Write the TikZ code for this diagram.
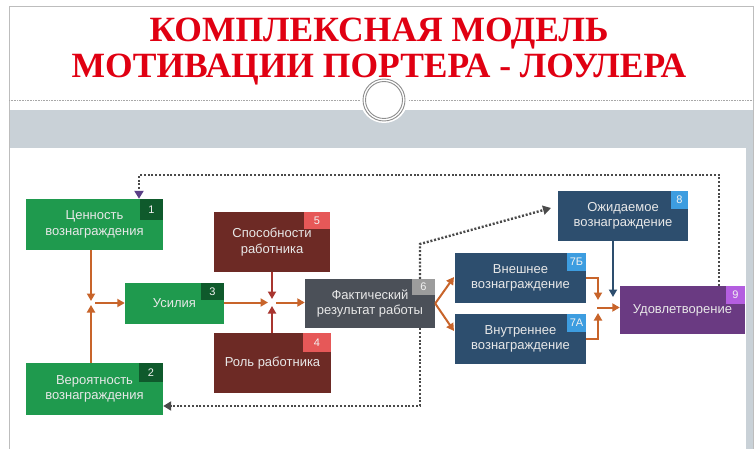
\documentclass[tikz,border=0pt]{standalone}
\usepackage{fontspec}
\setmainfont{Liberation Sans}
\newfontfamily\titlefont{Liberation Serif}
\usetikzlibrary{arrows.meta}
\definecolor{titlered}{HTML}{E00012}
\definecolor{bandgray}{HTML}{C9D1D7}
\definecolor{framegray}{HTML}{BDBDBD}
\definecolor{linegray}{HTML}{A8A8A8}
\definecolor{ringgray}{HTML}{8E8E8E}
\definecolor{cgreen}{HTML}{1F9A4E}
\definecolor{cgreentab}{HTML}{0F5A2C}
\definecolor{cbrown}{HTML}{6D2A25}
\definecolor{cbrowntab}{HTML}{E65858}
\definecolor{cgray}{HTML}{4B5058}
\definecolor{cgraytab}{HTML}{9C9C9C}
\definecolor{cblue}{HTML}{2D4E6E}
\definecolor{cbluetab}{HTML}{3D9DE0}
\definecolor{cpurple}{HTML}{6A3A82}
\definecolor{cpurpletab}{HTML}{B45EE0}
\definecolor{boxtext}{HTML}{E8E8E8}
\definecolor{arrorange}{HTML}{C8642A}
\definecolor{arrred}{HTML}{A8352F}
\definecolor{arrblue}{HTML}{2D4E6E}
\definecolor{dotgray}{HTML}{4A4A4A}
\definecolor{arrpurple}{HTML}{5A3F86}
\begin{document}
\begin{tikzpicture}[x=1pt,y=-1pt,
  title/.style={inner sep=0pt, text=titlered, font=\titlefont\bfseries\fontsize{35.5}{38}\selectfont},
  box/.style={rectangle, inner sep=2pt, align=center, text=boxtext, font=\fontsize{13}{15.5}\selectfont},
  tabbox/.style={rectangle, inner sep=0pt, anchor=north east, text=white!90!gray, font=\fontsize{11}{12}\selectfont},
  arr/.style={draw=arrorange, line width=2pt, -{Triangle[length=7.5pt,width=8pt]}},
  arrr/.style={draw=arrred, line width=2pt, -{Triangle[length=7.5pt,width=8pt]}},
  arrb/.style={draw=arrblue, line width=2pt, -{Triangle[length=7.5pt,width=8pt]}},
  dotl/.style={draw=dotgray, line width=2.4pt, dash pattern=on 2pt off 1.8pt}
]
\useasboundingbox (0,0) rectangle (755,449);
% slide background
\fill[white] (0,0) rectangle (755,449);
\fill[bandgray] (9,110) rectangle (753,449);
\fill[white] (9,148) rectangle (746,449);
\draw[framegray, line width=0.8pt] (9,449) -- (9,6) -- (753,6) -- (753,449);
\draw[linegray, line width=0.7pt, dash pattern=on 0.8pt off 0.8pt] (9,100) -- (753,100);
\fill[white] (384,99) circle[radius=24];
\draw[ringgray, line width=0.9pt] (384,100) circle[radius=21];
\draw[ringgray, line width=0.9pt] (384,100) circle[radius=18.5];
% title
\node[title, anchor=base] (title1) at (379,42) {КОМПЛЕКСНАЯ МОДЕЛЬ};
\node[title, anchor=base] (title2) at (379,78) {МОТИВАЦИИ ПОРТЕРА - ЛОУЛЕРА};
% boxes
\node[box, fill=cgreen, minimum width=137pt, minimum height=51pt] (b1) at (94.5,224.5) {Ценность\\вознаграждения};
\node[box, fill=cgreen, minimum width=137pt, minimum height=52pt] (b2) at (94.5,389) {Вероятность\\вознаграждения};
\node[box, fill=cgreen, minimum width=99pt, minimum height=41pt] (b3) at (174.5,303.5) {Усилия};
\node[box, fill=cbrown, minimum width=116pt, minimum height=60pt] (b5) at (272,242) {Способности\\работника};
\node[box, fill=cbrown, minimum width=117pt, minimum height=60pt] (b4) at (272.5,363) {Роль работника};
\node[box, fill=cgray, minimum width=130pt, minimum height=49pt] (b6) at (370,303.5) {Фактический\\результат работы};
\node[box, fill=cblue, minimum width=131pt, minimum height=50pt] (b7b) at (520.5,278) {Внешнее\\вознаграждение};
\node[box, fill=cblue, minimum width=131pt, minimum height=50pt] (b7a) at (520.5,339) {Внутреннее\\вознаграждение};
\node[box, fill=cblue, minimum width=130pt, minimum height=50pt] (b8) at (623,216) {Ожидаемое\\вознаграждение};
\node[box, fill=cpurple, minimum width=125pt, minimum height=48pt] (b9) at (682.5,310) {Удовлетворение};
% tabs
\node[tabbox, fill=cgreentab, minimum width=23pt, minimum height=21pt] (t1) at (b1.north east) {1};
\node[tabbox, fill=cgreentab, minimum width=24pt, minimum height=19pt] (t2) at (b2.north east) {2};
\node[tabbox, fill=cgreentab, minimum width=23pt, minimum height=17pt] (t3) at (b3.north east) {3};
\node[tabbox, fill=cbrowntab, minimum width=26pt, minimum height=17pt] (t5) at (b5.north east) {5};
\node[tabbox, fill=cbrowntab, minimum width=28pt, minimum height=19pt] (t4) at (b4.north east) {4};
\node[tabbox, fill=cgraytab, minimum width=23pt, minimum height=16pt] (t6) at (b6.north east) {6};
\node[tabbox, fill=cbluetab, minimum width=19pt, minimum height=18pt] (t7b) at (b7b.north east) {7Б};
\node[tabbox, fill=cbluetab, minimum width=19pt, minimum height=18pt] (t7a) at (b7a.north east) {7А};
\node[tabbox, fill=cbluetab, minimum width=17pt, minimum height=18pt] (t8) at (b8.north east) {8};
\node[tabbox, fill=cpurpletab, minimum width=19pt, minimum height=18pt] (t9) at (b9.north east) {9};
% left junction
\coordinate (j1u) at (91,301);
\coordinate (j1d) at (91,305);
\coordinate (j1r) at (95,303);
\draw[arr] (b1.south -| j1u) -- (j1u);
\draw[arr] (b2.north -| j1d) -- (j1d);
\draw[arr] (j1r) -- (j1r -| b3.west);
% middle junction
\coordinate (j2u) at (272,299);
\coordinate (j2d) at (272,306);
\coordinate (j2l) at (268,302.5);
\coordinate (j2r) at (276,302.5);
\draw[arrr] (b5.south -| j2u) -- (j2u);
\draw[arrr] (b4.north -| j2d) -- (j2d);
\draw[arr] (b3.east |- j2l) -- (j2l);
\draw[arr] (j2r) -- (j2r -| b6.west);
% fork
\coordinate (fu) at (454,277);
\coordinate (fd) at (454,331);
\draw[arr] (b6.east) -- (fu);
\draw[arr] (b6.east) -- (fd);
% merge
\coordinate (m1) at (598,300);
\coordinate (m2) at (598,313);
\coordinate (m3) at (597,307.5);
\coordinate (m4) at (613,297);
\draw[arr] (b7b.east) -- (b7b.east -| m1) -- (m1);
\draw[arr] (b7a.east) -- (b7a.east -| m2) -- (m2);
\draw[arr] (m3) -- (m3 -| b9.west);
\draw[arrb] (b8.south -| m4) -- (m4);
% dotted feedback lines
\coordinate (d1) at (719,175);
\coordinate (d2) at (139,175);
\draw[dotl, -{Triangle[length=8pt,width=9pt,fill=arrpurple,color=arrpurple]}] (b9.north -| d1) -- (d1) -- (d2) -- (d2 |- b1.north);
\coordinate (e1) at (420,244);
\coordinate (e2) at (551,208);
\draw[dotl, -{Triangle[length=8pt,width=9pt,fill=dotgray,color=dotgray]}] (b6.north -| e1) -- (e1) -- (e2);
\coordinate (g1) at (420,406);
\draw[dotl, -{Triangle[length=8pt,width=9pt,fill=dotgray,color=dotgray]}] (b6.south -| g1) -- (g1) -- (g1 -| b2.east);
\end{tikzpicture}
\end{document}
